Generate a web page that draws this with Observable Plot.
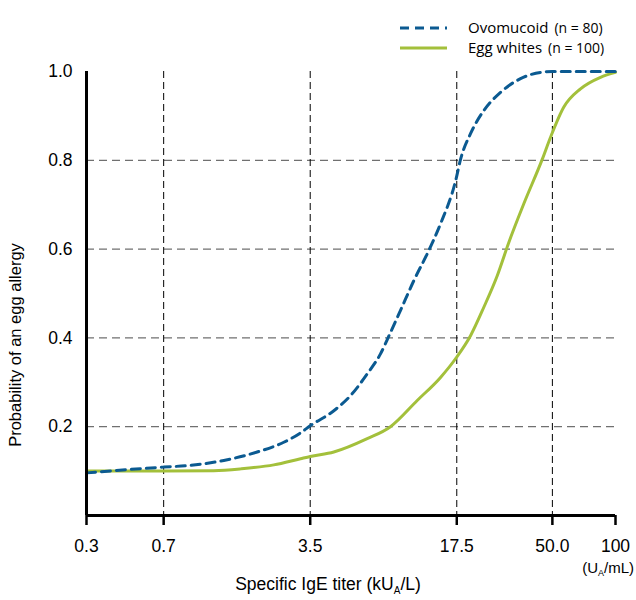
<!DOCTYPE html>
<html>
<head>
<meta charset="utf-8">
<script src="https://cdn.jsdelivr.net/npm/d3@7"></script>
<script src="https://cdn.jsdelivr.net/npm/@observablehq/plot@0.6"></script>
<style>
  html, body { margin: 0; padding: 0; background: #fff; overflow: hidden; }
  #chart { width: 636px; height: 600px; }
</style>
</head>
<body>
<div id="chart"></div>
<script>
// Ovomucoid (n = 80)
const ovoX = [0.3, 0.405, 0.7, 0.94, 1.355, 1.955, 2.618, 3.147, 3.5, 4.536, 5.447, 6.545, 7.57, 8.39, 9.434, 10.92, 12.87, 14.64, 17.3, 18.24, 20.35, 23.55, 28.29, 35.24, 43.9, 50, 100];
const ovoY = [0.096, 0.101, 0.109, 0.113, 0.124, 0.143, 0.165, 0.186, 0.202, 0.236, 0.270, 0.319, 0.364, 0.409, 0.462, 0.529, 0.597, 0.657, 0.755, 0.802, 0.860, 0.912, 0.953, 0.984, 0.998, 1.0, 1.0];
// Egg whites (n = 100)
const eggX = [0.3, 0.7, 1.214, 1.627, 2.346, 3.147, 3.5, 4.536, 6.545, 8.45, 11.33, 14.64, 17.5, 20.35, 23.55, 27.29, 30.99, 36.53, 44.72, 49, 56.7, 68.1, 84.8, 100];
const eggY = [0.1, 0.1, 0.101, 0.105, 0.114, 0.128, 0.133, 0.143, 0.173, 0.2, 0.259, 0.311, 0.357, 0.405, 0.469, 0.540, 0.615, 0.702, 0.802, 0.852, 0.92, 0.961, 0.987, 0.998];

const xTicks = [0.3, 0.7, 3.5, 17.5, 50, 100];
const xTickLabels = ["0.3", "0.7", "3.5", "17.5", "50.0", "100"];
const yTicks = [0.2, 0.4, 0.6, 0.8, 1.0];
const yTickLabels = ["0.2", "0.4", "0.6", "0.8", "1.0"];
const hGrid = [0.2, 0.4, 0.6, 0.8];
const vGrid = [0.7, 3.5, 17.5, 50];

const seriesNames = ["Ovomucoid", "Egg whites"];
const seriesN = ["(n = 80)", "(n = 100)"];

const BLUE = "#0b5a91";
const GREEN = "#a3c03b";
const FONT = "'Liberation Sans', Arial, sans-serif";

const ovo = ovoX.map((x, i) => ({x, y: ovoY[i]}));
const egg = eggX.map((x, i) => ({x, y: eggY[i]}));

const plot = Plot.plot({
  width: 636,
  height: 600,
  marginTop: 71,
  marginBottom: 85,
  marginLeft: 86,
  marginRight: 21,
  x: {type: "log", domain: [0.3, 100]},
  y: {domain: [0, 1], axis: null},
  style: {fontFamily: FONT, fontSize: "17px", color: "#000", background: "#fff"},
  marks: [
    Plot.ruleY(hGrid, {stroke: "#707070", strokeWidth: 1.3, strokeDasharray: "8,5"}),
    Plot.ruleX(vGrid, {stroke: "#000", strokeWidth: 1, strokeDasharray: "7,4"}),
    Plot.line(egg, {x: "x", y: "y", stroke: GREEN, strokeWidth: 3, curve: "monotone-x"}),
    Plot.line(ovo, {x: "x", y: "y", stroke: BLUE, strokeWidth: 3, strokeDasharray: "9,6", curve: "monotone-x"}),
    Plot.ruleX([0.3], {y1: 0, y2: 1, stroke: "#000", strokeWidth: 3}),
    Plot.ruleY([0], {x1: 0.3, x2: 100, stroke: "#000", strokeWidth: 3}),
    Plot.axisX({ticks: xTicks, tickFormat: () => "", tickSize: 10, strokeWidth: 2.5, label: null}),
    Plot.text(xTicks, {x: d => d, text: (d, i) => xTickLabels[i], frameAnchor: "bottom", lineAnchor: "middle", dy: 31, fontSize: 17.5, fontFamily: FONT, fill: "#000"}),
    Plot.text(yTicks, {y: d => d, text: (d, i) => yTickLabels[i], frameAnchor: "left", textAnchor: "end", dx: -14, fontSize: 17.5, fontFamily: FONT, fill: "#000"})
  ]
});
document.getElementById("chart").appendChild(plot);

const svg = d3.select(plot);
// y-axis title
svg.append("text")
  .attr("transform", "translate(21,345) rotate(-90)")
  .attr("text-anchor", "middle")
  .attr("font-family", FONT)
  .attr("font-size", 16.5)
  .attr("fill", "#000")
  .text("Probability of an egg allergy");

// x-axis title with subscript
const xt = svg.append("text")
  .attr("x", 328).attr("y", 590)
  .attr("text-anchor", "middle")
  .attr("font-family", FONT)
  .attr("font-size", 17.5)
  .attr("fill", "#000");
xt.append("tspan").text("Specific IgE titer (kU");
xt.append("tspan").attr("font-size", 10).attr("dy", 4).text("A");
xt.append("tspan").attr("dy", -4).text("/L)");

// unit under 100
const ut = svg.append("text")
  .attr("x", 634).attr("y", 573)
  .attr("text-anchor", "end")
  .attr("font-family", FONT)
  .attr("font-size", 15)
  .attr("fill", "#000");
ut.append("tspan").text("(U");
ut.append("tspan").attr("font-size", 9).attr("dy", 3).text("A");
ut.append("tspan").attr("dy", -3).text("/mL)");

// legend
const legend = svg.append("g");
const colors = [BLUE, GREEN];
const dashes = ["9,6", null];
seriesNames.forEach((name, i) => {
  const y = 28 + i * 20;
  legend.append("line")
    .attr("x1", 400).attr("x2", 447).attr("y1", y).attr("y2", y)
    .attr("stroke", colors[i]).attr("stroke-width", 3)
    .attr("stroke-dasharray", dashes[i]);
  const t = legend.append("text")
    .attr("x", 468).attr("y", y + 5)
    .attr("text-anchor", "start")
    .attr("font-family", "'Open Sans', sans-serif")
    .attr("font-size", 15)
    .attr("fill", "#000");
  t.append("tspan").text(name);
  t.append("tspan").attr("dx", 6).attr("font-size", 14).text(seriesN[i]);
});
</script>
</body>
</html>
